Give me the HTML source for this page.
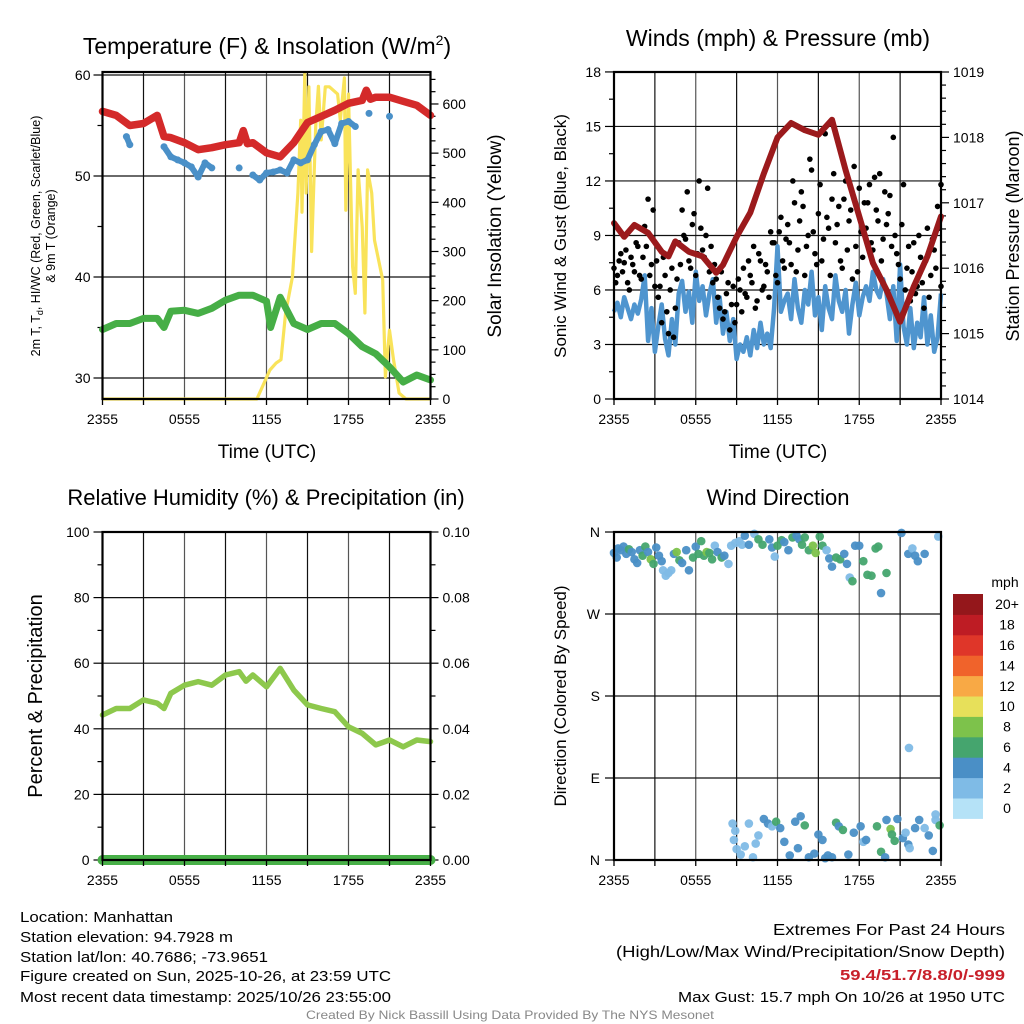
<!DOCTYPE html>
<html><head><meta charset="utf-8"><style>
html,body{margin:0;padding:0;background:#fff}
svg{display:block;font-family:"Liberation Sans",sans-serif}
</style></head><body>
<svg id="c" width="1024" height="1024" viewBox="0 0 1024 1024"></svg>
<script>
// ---------- data ----------
const timeTickLabels=['2355','0555','1155','1755','2355'];
const timeTickHours=[0,6,12,18,24];
// temperature panel
const tempTimes=[0,1,2,3,4,4.5,5,6,7,8,9,10,10.3,10.6,11,12,13,14,15,16,17,18,19,19.3,19.6,20,21,22,23,24];
const tempVals=[56.4,56.0,55.0,55.2,56.0,53.9,53.8,53.3,52.6,52.8,53.1,53.3,54.5,53.2,53.3,52.3,51.9,53.3,55.3,55.9,56.5,57.2,57.5,58.5,57.6,57.8,57.8,57.4,57.0,56.0];
const dewTimes=[0,1,2,3,4,4.5,5,6,7,8,9,10,11,12,12.3,13,14,15,16,17,18,19,20,21,22,23,24];
const dewVals=[34.8,35.4,35.4,35.9,35.9,35.0,36.6,36.7,36.4,36.9,37.7,38.2,38.2,37.6,35.0,38.0,35.4,34.8,35.4,35.4,34.4,33.1,32.4,31.1,29.6,30.3,29.8];
const wcTimes=[1.75,2,4.5,5,5.5,6,6.5,7,7.5,8,10,11,11.5,12,12.5,13,13.5,14,14.5,15,15.5,16,16.5,17,17.5,18,18.5,19.5,21];
const wcVals=[53.9,53.1,52.9,51.9,51.6,51.3,50.9,49.9,51.3,50.8,50.8,50.1,49.6,50.3,50.4,50.6,50.3,51.6,51.3,51.6,53.1,54.4,54.6,53.2,55.2,55.4,54.9,56.2,55.9];
const solarTimes=[0,11.3,12.25,12.7,13.06,13.4,13.9,14.3,14.5,14.6,14.8,14.9,15.1,15.3,15.6,15.8,16.0,16.3,16.6,17.2,17.4,17.7,17.8,18.0,18.3,18.5,18.7,19.0,19.2,19.4,19.7,19.9,20.5,20.7,21.0,21.3,21.7,22.2,24];
const solarVals=[0,0,59,73,80,175,249,419,567,380,663,419,635,300,554,636,527,635,635,620,567,653,384,620,269,215,466,350,175,466,419,323,242,45,140,79,12,0,0];
const tempTicks=[30,40,50,60];
const solarTicks=[0,100,200,300,400,500,600];
// winds panel
const windVals=[4.8,5.3,4.5,5.6,5.0,4.4,5.2,4.7,5.5,6.8,3.2,5.0,2.6,4.0,5.2,3.3,2.4,4.4,3.0,5.8,6.5,4.8,5.9,4.2,7.0,5.4,6.2,4.6,5.8,6.6,4.2,5.6,3.6,4.8,3.2,4.4,2.2,3.0,2.6,3.4,2.4,3.8,2.8,4.2,3.0,3.6,2.8,5.0,8.4,4.8,5.4,5.8,4.4,6.6,5.0,4.2,6.0,5.2,7.0,4.6,5.6,3.8,6.2,5.0,4.4,6.8,5.4,4.8,6.0,3.6,5.2,6.4,4.6,5.6,6.2,5.4,7.0,6.0,5.6,6.6,5.8,4.4,6.2,3.2,7.4,4.0,3.0,5.0,2.8,4.2,3.4,5.6,3.0,4.6,2.6,3.4,5.8];
const gustA=[7.2,6.8,8.0,7.5,6.4,7.8,7.0,8.4,6.6,9.5,11.0,7.4,6.2,5.6,4.2,6.8,3.6,7.2,5.0,8.6,10.4,8.8,7.6,9.6,6.8,12.0,8.2,9.0,7.0,6.4,6.6,5.0,4.4,5.8,3.8,6.2,5.2,6.0,7.2,5.6,6.8,8.4,5.4,7.6,6.2,7.0,9.2,8.6,6.4,10.0,7.2,9.6,7.4,10.8,8.2,11.4,6.8,9.0,12.6,8.0,10.2,7.6,14.6,9.4,11.0,8.6,10.6,7.2,12.0,9.8,6.6,8.4,11.6,7.8,9.4,11.8,8.2,10.4,12.4,8.8,9.6,11.2,14.4,8.0,6.6,11.8,7.2,5.4,8.6,6.2,7.8,5.0,9.4,6.8,8.2,10.6,11.8];
const gustB=[6.4,7.6,7.0,8.2,6.0,7.4,8.6,6.8,7.8,8.4,6.8,10.4,7.6,6.2,7.8,4.8,6.0,3.4,6.6,7.4,9.0,11.4,7.2,10.2,8.0,9.4,7.8,11.6,8.4,7.4,5.6,7.0,4.8,6.4,5.2,4.2,6.6,4.8,5.8,7.6,6.4,5.0,8.0,6.0,7.4,5.6,8.6,6.8,9.2,7.6,8.8,8.6,12.0,7.0,9.8,10.6,8.4,13.2,9.2,7.4,11.8,8.8,10.0,6.8,12.4,9.6,7.6,11.0,8.2,10.4,12.8,7.0,9.2,10.8,10.8,8.6,12.2,9.8,7.6,11.4,10.2,8.4,9.0,7.4,9.6,6.0,8.4,7.0,5.8,9.0,6.4,7.6,5.6,8.8,7.2,9.4,6.2];
const presTimes=[0,0.75,1.5,2.5,3.5,4,4.5,5.5,6.5,7.5,8,9,10,11,12,13,14,15,16,17,18,19,20,21,22,23,24];
const presVals=[1016.69,1016.48,1016.66,1016.54,1016.25,1016.18,1016.41,1016.25,1016.18,1015.93,1016.05,1016.48,1016.85,1017.45,1018.0,1018.22,1018.11,1018.04,1018.27,1017.5,1016.79,1016.08,1015.67,1015.18,1015.72,1016.18,1016.79];
const windTicks=[0,3,6,9,12,15,18];
const presTicks=[1014,1015,1016,1017,1018,1019];
// RH panel
const rhTimes=[0,1,2,3,4,4.5,5,6,7,8,9,10,10.5,11,12,13,14,15,16,17,18,19,20,21,22,23,24];
const rhVals=[44.2,46.2,46.2,48.8,47.8,46.2,50.8,53.3,54.4,53.3,56.4,57.4,54.5,56.4,52.8,58.4,51.8,47.3,46.2,45.2,40.6,38.6,35.1,36.6,34.5,36.6,36.1];
const precipTimes=[0,24];
const precipVals=[0,0];
const rhTicks=[0,20,40,60,80,100];
const precipTicks=['0.00','0.02','0.04','0.06','0.08','0.10'];
// wind direction panel
const wdTimes=[0.0,0.2,0.3,0.5,0.7,0.9,1.1,1.3,1.5,1.7,1.9,2.1,2.3,2.5,2.7,2.9,3.1,3.3,3.5,3.6,3.8,4.0,4.2,4.4,4.6,4.8,5.0,5.3,5.5,5.8,6.0,6.2,6.4,6.6,6.8,7.0,7.2,7.4,7.6,7.9,8.1,8.4,8.6,8.9,9.2,9.4,9.6,9.9,10.3,10.6,10.9,11.4,11.6,11.8,12.0,12.3,12.5,12.8,13.1,13.4,13.6,13.8,14.0,14.3,14.6,14.8,15.1,15.3,15.6,15.8,16.0,16.3,16.6,16.9,17.1,17.3,17.5,17.7,18.0,18.3,18.6,18.9,19.2,19.4,19.6,20.0,21.1,21.6,21.9,22.1,22.3,22.8,23.8,
8.7,8.9,8.8,9.0,9.3,9.6,9.9,10.2,10.4,10.6,11.0,11.3,11.6,11.9,12.2,12.5,12.9,13.3,13.5,13.7,14.0,14.3,14.7,15.0,15.3,15.5,15.7,16.0,16.3,16.5,16.8,17.2,17.6,18.1,18.3,18.5,19.3,19.6,19.9,20.0,20.3,20.4,20.6,20.8,21.2,21.4,21.6,21.7,22.1,22.4,22.8,23.1,23.4,23.6,23.9,23.6,21.65];
const wdDirs=[337,332,342,340,344,336,341,338,330,326,340,334,344,338,330,325,343,334,328,318,312,315,318,336,338,329,326,340,318,332,344,336,350,334,338,337,330,345,338,332,334,325,345,348,350,346,356,346,358,352,346,352,343,333,345,351,349,340,354,356,352,346,354,340,345,337,355,345,340,331,322,332,330,336,325,310,306,345,345,328,313,312,342,344,293,315,359,336,342,334,328,336,355,
40,32,22,12,6,15,40,3,18,27,45,40,37,42,35,20,5,42,13,48,38,3,7,28,22,2,5,3,41,37,33,6,30,37,20,22,37,9,3,44,34,28,21,45,24,30,17,13,35,44,35,27,10,44,38,50,123];
const wdSpeeds=[4,4,4,5,4,4,6,5,4,4,4,6,6,4,8,6,4,4,4,2,2,2,2,4,8,6,4,4,4,6,4,6,6,6,8,6,6,2,4,6,4,2,2,2,2,2,4,4,2,6,6,4,4,2,6,6,4,4,6,4,4,6,6,6,8,8,6,6,2,4,4,6,6,4,4,2,6,4,4,6,6,6,6,6,4,6,4,4,2,4,4,4,2,
2,2,2,2,2,2,2,2,2,2,4,4,2,6,4,4,4,4,4,4,6,4,4,4,4,4,4,4,6,4,6,4,4,4,2,4,6,6,4,4,8,6,6,4,4,2,4,2,4,4,2,4,4,2,6,2,2];
const speedLabels=['0','2','4','6','8','10','12','14','16','18','20+'];
const speedColors=['#b5e2f7','#7fbbe6','#4a8fc6','#45a56e','#7dc24b','#e7e05a','#f8a945','#f0632b','#df3629','#be1c24','#94171b'];
const dirTicks=['N','E','S','W','N'];

// ---------- helpers ----------
const NS='http://www.w3.org/2000/svg';
const svg=document.getElementById('c');
function mk(tag,attrs,parent){const e=document.createElementNS(NS,tag);for(const k in attrs)e.setAttribute(k,attrs[k]);(parent||svg).appendChild(e);return e;}
function txt(s,x,y,size,anchor,parent,extra){const e=mk('text',Object.assign({x:x,y:y,'font-size':size,'text-anchor':anchor||'middle',fill:'#000'},extra||{}),parent);e.textContent=s;return e;}
function line(x1,y1,x2,y2,st,w,p){return mk('line',{x1:x1,y1:y1,x2:x2,y2:y2,stroke:st,'stroke-width':w},p);}

function panel(name,x0,x1,yT,yB){
  const g=mk('g',{});
  
  
  return {g,x0,x1,yT,yB,xs:t=>x0+t/24*(x1-x0)};
}
function frame(P){
  const g=mk('g',{},P.g);
  
  
  mk('rect',{x:P.x0,y:P.yT,width:P.x1-P.x0,height:P.yB-P.yT,fill:'none',stroke:'#000','stroke-width':2.2},g);
  for(let h=0;h<=24;h+=3){const x=P.xs(h);line(x,P.yB,x,P.yB+6,'#000',1.3,g);}
  const lg=mk('g',{},P.g);
  
  
  timeTickHours.forEach((h,i)=>txt(timeTickLabels[i],P.xs(h),P.yB+25,14,'middle',lg));
}
function vgrid(P,g){for(let h=3;h<24;h+=3){const x=P.xs(h);line(x,P.yT,x,P.yB,(h%6==0)?'#555':'#111',1.2,g);}}
function pathFrom(ts,vs,xs,ys){return ts.map((t,i)=>(i?'L':'M')+xs(t).toFixed(1)+','+ys(vs[i]).toFixed(1)).join('');}

// ================= Panel 1 =================
{
const P=panel('temperature-panel',102.5,430.5,72,399);
const yT=v=>75+(60-v)*10.1, yS=w=>399-w*0.4917;
const gg=mk('g',{},P.g);


vgrid(P,gg);
tempTicks.forEach(v=>line(P.x0,yT(v),P.x1,yT(v),'#111',1.2,gg));
const ax=mk('g',{},P.g);


for(let v=30;v<=60;v+=5){line(P.x0-(v%10?5:9),yT(v),P.x0,yT(v),'#000',1.2,ax);}
tempTicks.forEach(v=>txt(String(v),P.x0-12,yT(v)+5,14,'end',ax));
const ar=mk('g',{},P.g);


for(let w=0;w<=650;w+=25){line(P.x1,yS(w),P.x1+(w%100?5:8),yS(w),'#000',1.2,ar);}
solarTicks.forEach(w=>txt(String(w),P.x1+12,yS(w)+5,14,'start',ar));
const sol=mk('path',{d:pathFrom(solarTimes,solarVals,P.xs,yS),fill:'none',stroke:'#f9e35a','stroke-width':3.2,'stroke-linejoin':'round'},P.g);


const red=mk('path',{d:pathFrom(tempTimes,tempVals,P.xs,yT),fill:'none',stroke:'#d42a2a','stroke-width':7.5,'stroke-linejoin':'round','stroke-linecap':'round'},P.g);


const grn=mk('path',{d:pathFrom(dewTimes,dewVals,P.xs,yT),fill:'none',stroke:'#46ae46','stroke-width':7,'stroke-linejoin':'round','stroke-linecap':'round'},P.g);


const wg=mk('g',{},P.g);


wcTimes.forEach((t,i)=>{
  if(i>0 && t-wcTimes[i-1]<=0.5){const s=line(P.xs(wcTimes[i-1]),yT(wcVals[i-1]),P.xs(t),yT(wcVals[i]),'#4a90c8',6,wg);s.setAttribute('stroke-linecap','round');}
  const c=mk('circle',{cx:P.xs(t),cy:yT(wcVals[i]),r:3.5,fill:'#4a90c8'},wg);
  
  
});
frame(P);
const t1=txt('',267,54,23,'middle',P.g);
t1.innerHTML='Temperature (F) &amp; Insolation (W/m<tspan dy="-9" font-size="14">2</tspan><tspan dy="9">)</tspan>';


const xl=txt('Time (UTC)',267,458,19,'middle',P.g);


const yl=mk('text',{transform:'translate(40,236) rotate(-90)','font-size':12.5,'text-anchor':'middle',fill:'#000'},P.g);
yl.innerHTML='<tspan x="0" dy="0">2m T, T<tspan font-size="9" dy="3">d</tspan><tspan dy="-3">, HI/WC (Red, Green, Scarlet/Blue)</tspan></tspan><tspan x="0" dy="15">&amp; 9m T (Orange)</tspan>';


const yr=txt('Solar Insolation (Yellow)',0,0,19,'middle',P.g,{transform:'translate(501,236) rotate(-90)'});


}

// ================= Panel 2 =================
{
const P=panel('winds-panel',614,941,72,399);
const yW=v=>399-v*18.17, yP=p=>399-(p-1014)*65.4;
const gg=mk('g',{},P.g);


vgrid(P,gg);
windTicks.slice(1,-1).forEach(v=>line(P.x0,yW(v),P.x1,yW(v),'#111',1.2,gg));
const ax=mk('g',{},P.g);


for(let v=0;v<=18;v+=1.5){line(P.x0-(v%3?5:9),yW(v),P.x0,yW(v),'#000',1.2,ax);}
windTicks.forEach(v=>txt(String(v),P.x0-13,yW(v)+5,14,'end',ax));
const ar=mk('g',{},P.g);


for(let k=0;k<=25;k++){const p=1014+k*0.2;line(P.x1,yP(p),P.x1+(k%5?5:8),yP(p),'#000',1.2,ar);}
presTicks.forEach(p=>txt(String(p),P.x1+12,yP(p)+5,14,'start',ar));
const wt=windVals.map((v,i)=>i*0.25);
const wl=mk('path',{d:pathFrom(wt,windVals,P.xs,yW),fill:'none',stroke:'#4f95cf','stroke-width':4.5,'stroke-linejoin':'round'},P.g);


const gg2=mk('g',{},P.g);


gustA.forEach((v,i)=>{const c=mk('circle',{cx:P.xs(i*0.25),cy:yW(v),r:2.8,fill:'#000'},gg2);});
gustB.forEach((v,i)=>{const t=Math.min(24,i*0.25+0.125);const c=mk('circle',{cx:P.xs(t),cy:yW(v),r:2.8,fill:'#000'},gg2);});
const pl=mk('path',{d:pathFrom(presTimes,presVals,P.xs,yP),fill:'none',stroke:'#9b1a1c','stroke-width':6,'stroke-linejoin':'round','stroke-linecap':'round'},P.g);


frame(P);
const t1=txt('Winds (mph) & Pressure (mb)',778,46,23,'middle',P.g);


const xl=txt('Time (UTC)',778,458,19,'middle',P.g);


const yl=txt('Sonic Wind & Gust (Blue, Black)',0,0,17,'middle',P.g,{transform:'translate(566,236) rotate(-90)'});


const yr=txt('Station Pressure (Maroon)',0,0,18,'middle',P.g,{transform:'translate(1019,236) rotate(-90)'});


}

// ================= Panel 3 =================
{
const P=panel('humidity-panel',102.5,430.5,532,860);
const yR=v=>860-v*3.28, yPr=v=>860-v*3280;
const gg=mk('g',{},P.g);


vgrid(P,gg);
rhTicks.slice(1,-1).forEach(v=>line(P.x0,yR(v),P.x1,yR(v),'#111',1.2,gg));
const ax=mk('g',{},P.g);


for(let v=0;v<=100;v+=10){line(P.x0-(v%20?5:9),yR(v),P.x0,yR(v),'#000',1.2,ax);}
rhTicks.forEach(v=>txt(String(v),P.x0-13,yR(v)+5,14,'end',ax));
const ar=mk('g',{},P.g);


for(let k=0;k<=10;k++){line(P.x1,yPr(k*0.01),P.x1+(k%2?5:8),yPr(k*0.01),'#000',1.2,ar);}
precipTicks.forEach((s,i)=>txt(s,P.x1+12,yPr(i*0.02)+5,14,'start',ar));
const rl=mk('path',{d:pathFrom(rhTimes,rhVals,P.xs,yR),fill:'none',stroke:'#8dc84c','stroke-width':5.5,'stroke-linejoin':'round','stroke-linecap':'round'},P.g);


const pl=mk('path',{d:pathFrom(precipTimes,precipVals,P.xs,yPr),fill:'none',stroke:'#48b048','stroke-width':10,'stroke-linecap':'round'},P.g);


frame(P);
const t1=txt('Relative Humidity (%) & Precipitation (in)',266,505,22,'middle',P.g);


const yl=txt('Percent & Precipitation',0,0,20,'middle',P.g,{transform:'translate(42,696) rotate(-90)'});


}

// ================= Panel 4 =================
{
const P=panel('wind-direction-panel',614,941,532,860);
const yD=d=>860-d*0.9111;
const gg=mk('g',{},P.g);


vgrid(P,gg);
[90,180,270].forEach(d=>line(P.x0,yD(d),P.x1,yD(d),'#111',1.2,gg));
const ax=mk('g',{},P.g);


dirTicks.forEach((s,i)=>{line(P.x0-9,yD(i*90),P.x0,yD(i*90),'#000',1.2,ax);txt(s,P.x0-14,yD(i*90)+5,14,'end',ax);});
const pg=mk('g',{},P.g);


wdTimes.forEach((t,i)=>{const ci=Math.min(10,Math.floor(wdSpeeds[i]/2));const c=mk('circle',{cx:P.xs(t),cy:yD(wdDirs[i]),r:4.3,fill:speedColors[ci],'fill-opacity':0.95},pg);});
frame(P);
const t1=txt('Wind Direction',778,505,22,'middle',P.g);


const yl=txt('Direction (Colored By Speed)',0,0,17,'middle',P.g,{transform:'translate(566,696) rotate(-90)'});


const cb=mk('g',{});


const h=20.4, top=594;
txt('mph',1005,587,14,'middle',cb);
speedLabels.forEach((s,i)=>{const k=10-i;const y=top+k*h;
  const r=mk('rect',{x:953,y:y,width:30,height:h+0.5,fill:speedColors[i]},cb);
  
  
  txt(s,1007,y+h/2+5,14,'middle',cb);
});
}

// ================= footer text =================
{
const g=mk('g',{});


const L=['Location: Manhattan','Station elevation: 94.7928 m','Station lat/lon: 40.7686; -73.9651','Figure created on Sun, 2025-10-26, at 23:59 UTC','Most recent data timestamp: 2025/10/26 23:55:00'];
const LW=[153,213,248,371,371];
[922,942,962,981,1002].forEach((y,i)=>txt(L[i],20,y,15,'start',g,{textLength:LW[i],lengthAdjust:'spacingAndGlyphs'}));
const r=mk('g',{});


txt('Extremes For Past 24 Hours',1005,935,16,'end',r,{textLength:232,lengthAdjust:'spacingAndGlyphs'});
txt('(High/Low/Max Wind/Precipitation/Snow Depth)',1005,957,16,'end',r,{textLength:389,lengthAdjust:'spacingAndGlyphs'});
txt('59.4/51.7/8.8/0/-999',1005,980,15,'end',r,{fill:'#c8202a','font-weight':'bold',textLength:165,lengthAdjust:'spacingAndGlyphs'});
txt('Max Gust: 15.7 mph On 10/26 at 1950 UTC',1005,1002,15,'end',r,{textLength:327,lengthAdjust:'spacingAndGlyphs'});
const c=txt('Created By Nick Bassill Using Data Provided By The NYS Mesonet',510,1019,12,'middle',svg,{fill:'#888',textLength:408,lengthAdjust:'spacingAndGlyphs'});


}
</script>
</body></html>
